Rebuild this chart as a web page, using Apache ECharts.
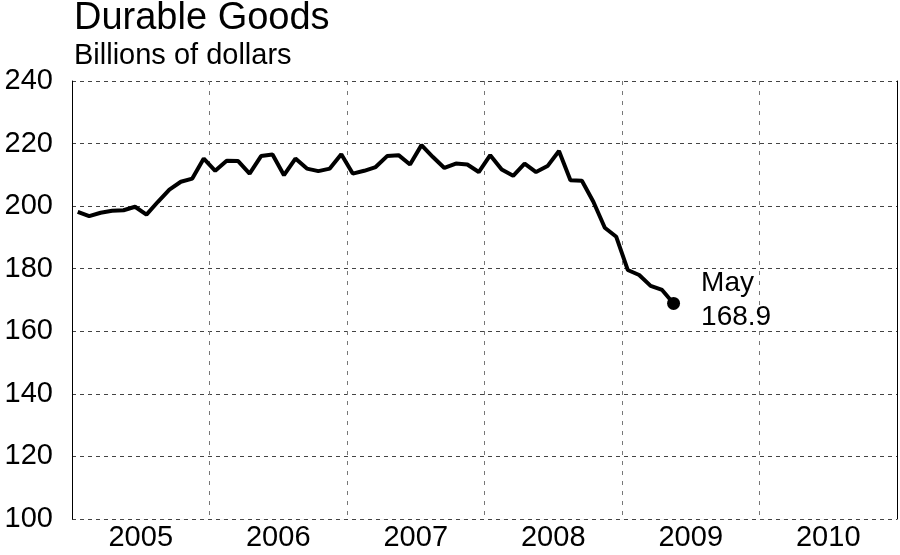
<!DOCTYPE html>
<html>
<head>
<meta charset="utf-8">
<script src="https://cdn.jsdelivr.net/npm/echarts@6/dist/echarts.min.js"></script>
<style>
  html, body { margin: 0; padding: 0; background: #fff; }
  #chart { width: 900px; height: 555px; }
</style>
</head>
<body>
<div id="chart"></div>
<script>
// 年份标签（放在每年中间）
var years = ['2005', '2006', '2007', '2008', '2009', '2010'];
// 每月数值，读自原图
var v2005 = [198.2, 196.8, 197.9, 198.5, 198.7, 199.8, 197.3, 201.4, 205.3, 207.8, 208.8, 215.2];
var v2006 = [211.3, 214.5, 214.4, 210.4, 216.0, 216.5, 209.9, 215.2, 212.0, 211.2, 212.0, 216.6];
var v2007 = [210.4, 211.3, 212.5, 216.0, 216.3, 213.3, 219.5, 215.7, 212.2, 213.6, 213.3, 210.9];
var v2008 = [216.3, 211.7, 209.7, 213.6, 210.9, 212.8, 217.6, 208.3, 208.1, 201.4, 193.1, 190.2];
var v2009 = [179.6, 178.0, 174.5, 173.2, 168.9];
var yTicks = [100, 120, 140, 160, 180, 200, 220, 240];

var chart = echarts.init(document.getElementById('chart'));

// x轴按月计，点放在月中间
var values = [].concat(v2005, v2006, v2007, v2008, v2009);
var lineData = [];
for (var i = 0; i < values.length; i++) {
	lineData.push([i + 0.5, values[i]]);
}
var last = lineData[lineData.length - 1];

var labelPos = [];
for (var k = 0; k < years.length; k++) {
	labelPos.push(k * 12 + 6);
}

var font = 'Liberation Sans, Arial, sans-serif';

var option = {
	animation: false,
	title: {
		text: 'Durable Goods',
		subtext: 'Billions of dollars',
		left: 74,
		top: 0,
		padding: 0,
		itemGap: 3,
		textStyle: { fontFamily: font, fontSize: 38, fontWeight: 'normal', color: '#000' },
		subtextStyle: { fontFamily: font, fontSize: 29, color: '#000' }
	},
	grid: { left: 72, right: 3, top: 81, bottom: 36, containLabel: false },
	xAxis: {
		type: 'value',
		min: 0,
		max: 72,
		interval: 12,
		axisLine: { show: false },
		axisTick: { show: false },
		splitLine: {
			show: true,
			lineStyle: { color: '#777', type: [4, 6], width: 1 }
		},
		axisLabel: {
			customValues: labelPos,
			margin: 4,
			fontFamily: font,
			fontSize: 29,
			color: '#000',
			formatter: function (v) {
				return years[Math.round((v - 6) / 12)];
			}
		}
	},
	yAxis: [{
		type: 'value',
		min: yTicks[0],
		max: yTicks[yTicks.length - 1],
		interval: 20,
		axisLine: { show: true, lineStyle: { color: '#000', width: 1 } },
		axisTick: { show: false },
		axisLabel: { margin: 19, fontFamily: font, fontSize: 29, color: '#000' },
		splitLine: {
			show: true,
			lineStyle: { color: '#444', type: [4, 4], width: 1 }
		}
	}, {
		type: 'value',
		position: 'right',
		min: yTicks[0],
		max: yTicks[yTicks.length - 1],
		interval: 20,
		axisLine: { show: true, lineStyle: { color: '#000', width: 1 } },
		axisTick: { show: false },
		axisLabel: { show: false },
		splitLine: { show: false }
	}],
	series: [{
		type: 'line',
		data: lineData,
		showSymbol: false,
		symbol: 'none',
		lineStyle: { color: '#000', width: 4 },
		z: 3
	}, {
		// 最后一个点和标注
		type: 'scatter',
		data: [last],
		symbol: 'circle',
		symbolSize: 13,
		itemStyle: { color: '#000', opacity: 1 },
		label: {
			show: true,
			position: 'right',
			distance: 21,
			offset: [0, -3],
			align: 'left',
			fontFamily: font,
			fontSize: 28,
			lineHeight: 34,
			color: '#000',
			opacity: 1,
			formatter: 'May\n' + last[1].toFixed(1)
		},
		z: 4
	}]
};

chart.setOption(option);
</script>
</body>
</html>
